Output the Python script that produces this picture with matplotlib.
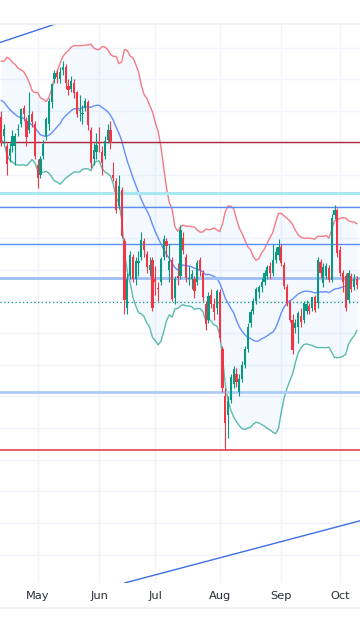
import numpy as np
import pandas as pd
import matplotlib
matplotlib.use("Agg")
import matplotlib.pyplot as plt
from matplotlib.lines import Line2D

# ---------------- data ----------------
start_date = "2024-04-12"
end_date = "2024-10-09"
market_holidays = ["2024-05-01"]

# closes before the visible window (feed the 20-day Bollinger bands)
warmup_close = [8161, 8164, 8200, 8201, 8161, 8179, 8151, 8151, 8184, 8204,
                8205, 8130, 8131, 8155, 8061, 8119, 8049, 8045, 8024]

opens = [8080, 8020, 7990, 7960, 7990, 7990, 8040, 8060, 8110, 8070,
         8040, 8090, 8060, 7930, 7900, 7960, 8020, 8060, 8130, 8200,
         8220, 8200, 8230, 8240, 8180, 8170, 8190, 8160, 8100, 8090,
         8110, 8130, 8040, 7950, 7970, 8000, 7970, 7960, 8010, 8040,
         7900, 7880, 7800, 7850, 7690, 7480, 7580, 7640, 7570, 7620,
         7640, 7690, 7650, 7600, 7630, 7570, 7540, 7560, 7640, 7690,
         7600, 7630, 7510, 7580, 7580, 7700, 7640, 7570, 7570, 7570,
         7560, 7630, 7590, 7490, 7440, 7520, 7490, 7480, 7530, 7350,
         7200, 7140, 7190, 7240, 7270, 7215, 7255, 7300, 7350, 7430,
         7470, 7500, 7530, 7545, 7560, 7580, 7610, 7590, 7630, 7645,
         7670, 7615, 7545, 7494, 7441, 7415, 7419, 7455, 7440, 7470,
         7485, 7480, 7513, 7494, 7625, 7558, 7580, 7605, 7567, 7772,
         7788, 7662, 7590, 7580, 7504, 7580, 7545, 7570]
highs = [8100, 8060, 8000, 8000, 8040, 8030, 8060, 8110, 8120, 8080,
         8160, 8100, 8070, 7950, 7960, 8010, 8080, 8140, 8190, 8230,
         8230, 8240, 8259, 8250, 8200, 8210, 8200, 8165, 8150, 8120,
         8140, 8135, 8050, 8000, 8030, 8050, 7990, 8020, 8060, 8070,
         7940, 7890, 7900, 7860, 7700, 7590, 7660, 7650, 7640, 7660,
         7720, 7700, 7660, 7640, 7640, 7610, 7560, 7640, 7710, 7700,
         7680, 7640, 7580, 7620, 7740, 7720, 7650, 7610, 7600, 7580,
         7630, 7640, 7600, 7500, 7530, 7540, 7510, 7540, 7540, 7360,
         7225, 7200, 7270, 7295, 7290, 7270, 7310, 7360, 7430, 7475,
         7510, 7545, 7550, 7575, 7600, 7615, 7625, 7680, 7670, 7695,
         7680, 7625, 7555, 7505, 7460, 7445, 7470, 7480, 7500, 7505,
         7495, 7515, 7520, 7640, 7635, 7620, 7620, 7615, 7775, 7804,
         7795, 7675, 7600, 7590, 7600, 7590, 7585, 7580]
lows = [7990, 8000, 7900, 7940, 7970, 7930, 8020, 8050, 8070, 7990,
        8030, 8050, 7950, 7856, 7890, 7950, 8010, 8040, 8110, 8190,
        8190, 8190, 8215, 8170, 8150, 8160, 8140, 8080, 8070, 8060,
        8100, 8040, 7920, 7930, 7950, 7970, 7900, 7950, 8000, 7980,
        7880, 7780, 7790, 7700, 7460, 7460, 7570, 7560, 7550, 7580,
        7630, 7640, 7590, 7580, 7470, 7520, 7500, 7550, 7630, 7640,
        7560, 7500, 7490, 7550, 7570, 7650, 7560, 7550, 7540, 7510,
        7550, 7580, 7500, 7410, 7430, 7480, 7440, 7460, 7370, 7215,
        7031, 7070, 7180, 7225, 7230, 7200, 7245, 7290, 7340, 7420,
        7460, 7490, 7510, 7530, 7550, 7570, 7570, 7580, 7620, 7630,
        7610, 7540, 7485, 7435, 7335, 7400, 7368, 7420, 7430, 7460,
        7460, 7470, 7465, 7480, 7575, 7545, 7570, 7560, 7560, 7760,
        7640, 7580, 7530, 7470, 7495, 7530, 7535, 7540]
closes = [8000, 8045, 7932, 7981, 8023, 8022, 8040, 8106, 8091, 8017,
          8088, 8065, 7960, 7890, 7950, 7996, 8075, 8131, 8187, 8219,
          8208, 8225, 8240, 8188, 8167, 8195, 8156, 8092, 8102, 8094,
          8132, 8057, 7935, 7978, 7992, 7997, 7937, 8007, 8041, 8001,
          7890, 7789, 7865, 7707, 7503, 7571, 7645, 7570, 7628, 7628,
          7693, 7662, 7609, 7614, 7479, 7561, 7538, 7633, 7696, 7675,
          7627, 7508, 7570, 7574, 7724, 7661, 7572, 7571, 7586, 7534,
          7622, 7599, 7513, 7427, 7517, 7493, 7465, 7531, 7383, 7225,
          7115, 7185, 7260, 7285, 7245, 7255, 7300, 7350, 7420, 7465,
          7500, 7540, 7545, 7560, 7590, 7608, 7590, 7630, 7655, 7670,
          7620, 7548, 7494, 7441, 7345, 7430, 7462, 7435, 7494, 7490,
          7470, 7513, 7473, 7630, 7590, 7608, 7610, 7567, 7762, 7788,
          7652, 7590, 7560, 7480, 7590, 7540, 7570, 7550]

last_price = 7497

# horizontal levels drawn on the chart
level_prices = [8004, 7842, 7797, 7680, 7574, 7214, 7031]
level_colors = ["#b2283b", "#a8e6f0", "#5b8def", "#5b8def", "#9dbdf5", "#aecbf5", "#e2424f"]
level_widths = [1.0, 2.2, 1.0, 1.0, 2.0, 2.0, 1.2]

# trend lines: (bar index, price) anchor pairs
upper_trend = [(0, 8318), (19, 8374)]
lower_trend = [(44, 6611), (128, 6807)]

month_names = ["May", "Jun", "Jul", "Aug", "Sep", "Oct"]

# ---------------- computed frame ----------------
dates = pd.bdate_range(start_date, end_date, freq="C", holidays=market_holidays)
df = pd.DataFrame({"open": opens, "high": highs, "low": lows, "close": closes}, index=dates)
n = len(df)
idx = np.arange(n)

allc = pd.Series(warmup_close + closes, dtype=float)
mid = allc.rolling(20).mean()
sd = allc.rolling(20).std(ddof=0)
mid = mid.iloc[len(warmup_close):].to_numpy()
sd = sd.iloc[len(warmup_close):].to_numpy()
upper = mid + 2 * sd
lower = mid - 2 * sd

# ---------------- figure ----------------
W, H = 360, 640
fig = plt.figure(figsize=(W / 100, H / 100), dpi=100)
fig.patch.set_facecolor("white")
ax = fig.add_axes([0, 57 / H, 1, (583 - 24) / H])
ax.set_facecolor("white")

ax.set_xlim(-0.464, 128.107)
ax.set_ylim(6611, 8375)

# grid
ax.set_yticks(np.arange(6700, 8400, 100))
ax.tick_params(axis="y", left=False, labelleft=False)
month_pos = [int(np.argmax((df.index.month == m))) for m in [5, 6, 7, 8, 9, 10]]
ax.set_xticks(month_pos)
ax.set_xticklabels(month_names)
ax.tick_params(axis="x", length=0, pad=5.5, labelsize=8.2, labelcolor="#2a2e39")
ax.grid(True, color="#f0f3fa", linewidth=1.0)
ax.set_axisbelow(True)
for s in ax.spines.values():
    s.set_visible(False)

# bollinger fill and lines
ax.fill_between(idx, lower, upper, color="#2196F3", alpha=0.05, linewidth=0, zorder=1)
ax.plot(idx, upper, color="#F23645", alpha=0.65, linewidth=1.0, zorder=2)
ax.plot(idx, mid, color="#2962FF", alpha=0.7, linewidth=1.0, zorder=2)
ax.plot(idx, lower, color="#089981", alpha=0.65, linewidth=1.0, zorder=2)

# levels
for p, c, w in zip(level_prices, level_colors, level_widths):
    ax.axhline(p, color=c, linewidth=w, zorder=3)
ax.axhline(last_price, color="#089981", linewidth=0.9, linestyle=(0, (1, 2)), zorder=3)

# trend lines
ax.axline(upper_trend[0], upper_trend[1], color="#3f6ee8", linewidth=1.0, zorder=3)
ax.axline(lower_trend[0], lower_trend[1], color="#3f6ee8", linewidth=1.0, zorder=3)

# candles
up = df["close"].to_numpy() >= df["open"].to_numpy()
colors = np.where(up, "#089981", "#F23645")
ax.vlines(idx, df["low"], df["high"], colors=colors, linewidth=0.8, zorder=4)
body_bottom = np.minimum(df["open"], df["close"])
body_h = np.abs(df["close"] - df["open"]).clip(lower=3)
ax.bar(idx, body_h, bottom=body_bottom, width=0.8, color=colors, linewidth=0, zorder=5)

# pane borders
fig.add_artist(Line2D([0, 1], [1 - 24 / H, 1 - 24 / H], color="#eef0f4", linewidth=1.2))
fig.add_artist(Line2D([0, 1], [1 - 608 / H, 1 - 608 / H], color="#eef0f4", linewidth=1.2))

fig.savefig("out.png", dpi=100, facecolor="white")
